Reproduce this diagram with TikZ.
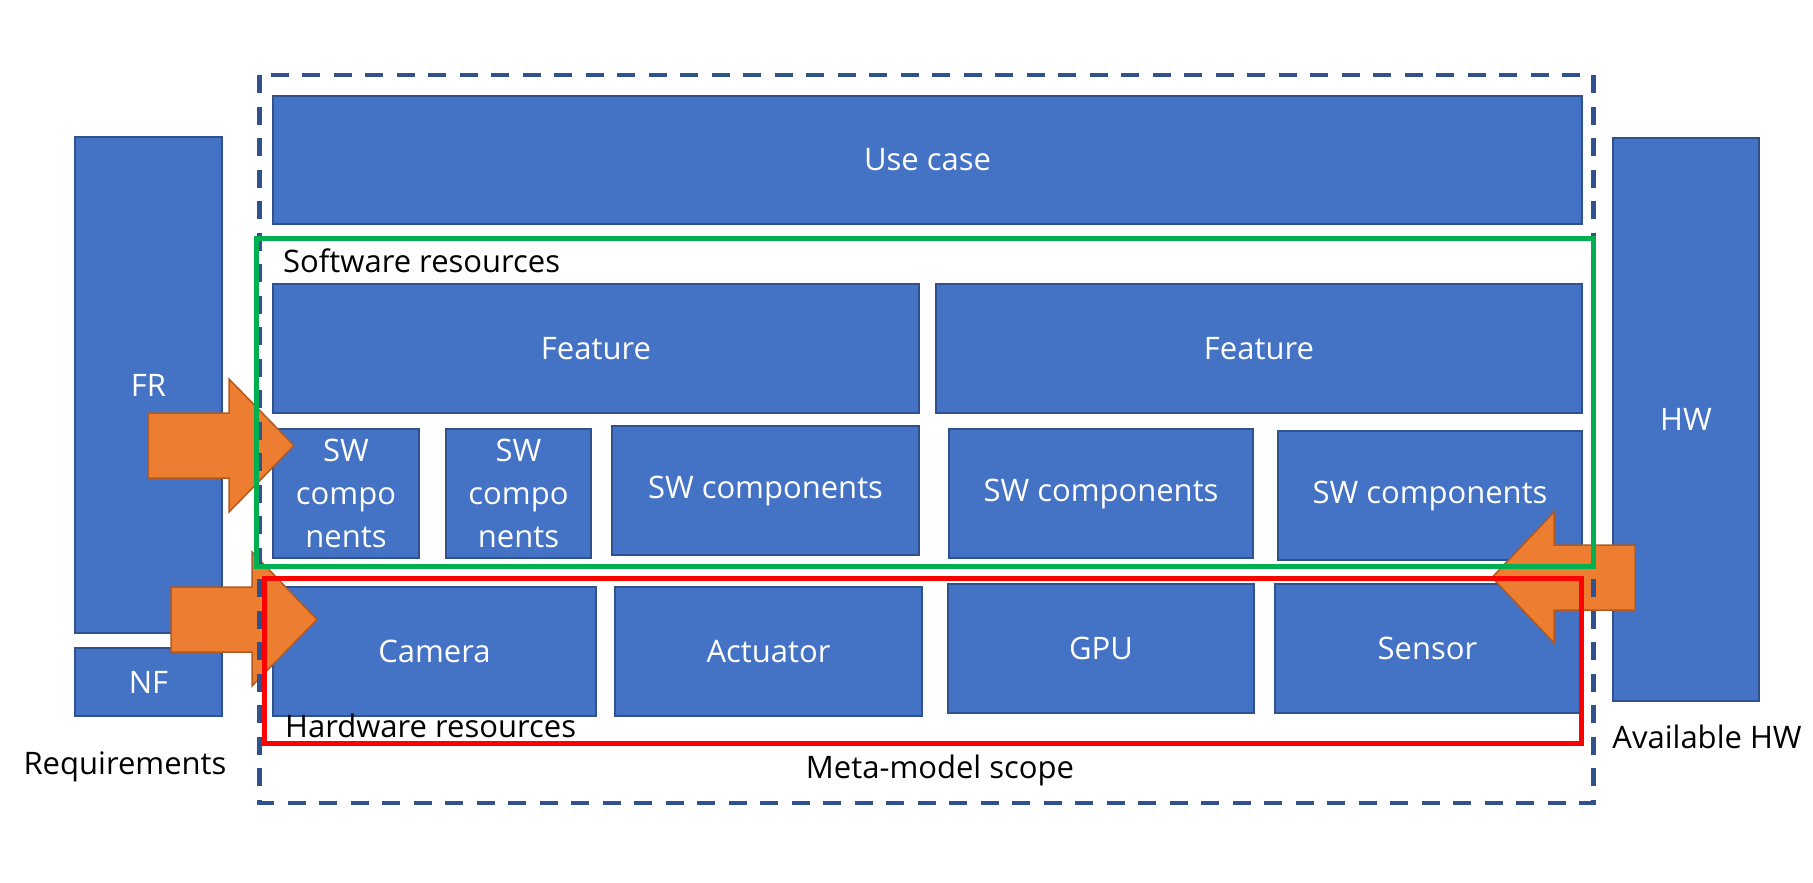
\documentclass[tikz,border=0pt]{standalone}
\usepackage{fontspec}
\setmainfont{Open Sans}
\definecolor{obl}{HTML}{4472C4}
\definecolor{obd}{HTML}{2F528F}
\definecolor{ora}{HTML}{ED7D31}
\definecolor{orad}{HTML}{AE5A21}
\definecolor{grn}{HTML}{00B050}
\definecolor{rd}{HTML}{FF0000}
% box from (x1,y1) to (x2,y2), pixel coordinates, y downwards
\newcommand\pxbox[6]{\node[blk, minimum width={#4-#2}, minimum height={#5-#3}]
  (#1) at ({(#2+#4)/2},{(#3+#5)/2}) {#6};}
\begin{document}
\begin{tikzpicture}[x=1pt,y=-1pt,
  blk/.style={draw=obd, fill=obl, line width=1.6pt, inner sep=0pt, outer sep=0pt,
    text=white, font=\fontsize{31}{43}\selectfont, align=center},
  lbl/.style={inner sep=0pt, text=black, font=\fontsize{31}{38}\selectfont},
  barrow/.style={fill=ora, draw=orad, line width=1.5pt, line join=miter},
  scopebox/.style={draw=obd, line width=4.5pt, dash pattern=on 18pt off 13.5pt},
  grnbox/.style={draw=grn, line width=5pt},
  redbox/.style={draw=rd, line width=5pt},
]
\useasboundingbox (0,0) rectangle (1813,883);

% side boxes
\pxbox{fr}{75}{137}{222}{633}{FR}
\pxbox{nf}{75}{648}{222}{716}{NF}
\pxbox{hw}{1613}{138}{1759}{701}{HW}

% use case
\pxbox{usecase}{273}{96}{1582}{224}{Use case}

% features
\pxbox{feat1}{273}{284}{919}{413}{Feature}
\pxbox{feat2}{936}{284}{1582}{413}{Feature}

% SW components
\pxbox{sw1}{273}{429}{419}{558}{SW\\compo\\nents}
\pxbox{sw2}{446}{429}{591}{558}{SW\\compo\\nents}
\pxbox{sw3}{612}{426}{919}{555}{SW components}
\pxbox{sw4}{949}{429}{1253}{558}{SW components}
\pxbox{sw5}{1278}{431}{1582}{560}{SW components}

% hardware
\pxbox{cam}{273}{587}{596}{716}{Camera}
\pxbox{act}{615}{587}{922}{716}{Actuator}
\pxbox{gpu}{948}{584}{1254}{713}{GPU}
\pxbox{sen}{1275}{584}{1580}{713}{Sensor}

% block arrows
\draw[barrow] (148,413) -- (229,413) -- (229,379) -- (294,445.5) -- (229,512)
  -- (229,478) -- (148,478) -- cycle;
\draw[barrow] (171,587) -- (252,587) -- (252,552) -- (317,619.5) -- (252,686)
  -- (252,652) -- (171,652) -- cycle;
\draw[barrow] (1635,545) -- (1554,545) -- (1554,512) -- (1492,577.5) -- (1554,643)
  -- (1554,610) -- (1635,610) -- cycle;

% scope frames
\draw[scopebox] (259.5,75) rectangle (1593.5,803);
\draw[grnbox] (256.5,238) rectangle (1593,566);
\draw[redbox] (264.5,578) rectangle (1581,743);

% labels
\node[lbl, anchor=base west] (swres) at (283,272) {Software resources};
\node[lbl, anchor=base west] (hwres) at (285,737) {Hardware resources};
\node[lbl, anchor=base] (req) at (125,774) {Requirements};
\node[lbl, anchor=base] (meta) at (940,778) {Meta-model scope};
\node[lbl, anchor=base] (avail) at (1707,748) {Available HW};
\end{tikzpicture}
\end{document}
